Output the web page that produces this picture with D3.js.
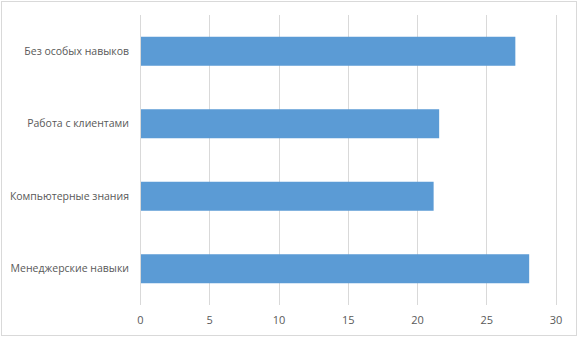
<!DOCTYPE html>
<html>
<head>
<meta charset="utf-8">
<script src="https://cdn.jsdelivr.net/npm/d3@7"></script>
<style>
  body { margin: 0; background: #fff; }
  svg text { font-family: "Open Sans", sans-serif; }
</style>
</head>
<body>
<div id="chart"></div>
<script>
// данные
var categories = ["Без особых навыков", "Работа с клиентами", "Компьютерные знания", "Менеджерские навыки"];
var values = [27.1, 21.6, 21.2, 28.1];
var ticks = [0, 5, 10, 15, 20, 25, 30];

function init() {
  var w = 578, h = 338;
  var mLeft = 140, mRight = 555.5, mTop = 15, mBottom = 305;

  var svg = d3.select("#chart").append("svg")
    .attr("width", w)
    .attr("height", h);

  // рамка
  svg.append("rect")
    .attr("x", 1.5).attr("y", 1.5)
    .attr("width", 575).attr("height", 334)
    .attr("fill", "none")
    .attr("stroke", "#d9d9d9");

  var x = d3.scaleLinear().domain([0, 30]).range([mLeft, mRight]);
  var y = d3.scaleBand().domain(categories).range([mTop, mBottom])
    .paddingInner(0.6).paddingOuter(0.3);

  // сетка
  svg.selectAll("line.grid")
    .data(ticks)
    .enter()
    .append("line")
    .attr("class", "grid")
    .attr("x1", function(d) { return Math.round(x(d)) + 0.5; })
    .attr("x2", function(d) { return Math.round(x(d)) + 0.5; })
    .attr("y1", mTop)
    .attr("y2", mBottom)
    .attr("stroke", "#d9d9d9")
    .attr("stroke-width", 1);

  // полосы
  svg.selectAll("rect.bar")
    .data(values)
    .enter()
    .append("rect")
    .attr("class", "bar")
    .attr("x", x(0) + 1)
    .attr("y", function(d, i) { return y(categories[i]); })
    .attr("width", function(d) { return x(d) - x(0) - 1; })
    .attr("height", y.bandwidth())
    .attr("fill", "#5b9bd5");

  // подписи оси X
  var xAxis = d3.axisBottom(x).tickValues(ticks).tickSize(0).tickPadding(10);
  var gx = svg.append("g").attr("transform", "translate(0," + (mBottom + 1) + ")").call(xAxis);
  gx.select(".domain").remove();
  gx.selectAll("text").style("font-size", "11px").style("fill", "#595959");

  // подписи категорий
  var yAxis = d3.axisLeft(y).tickSize(0).tickPadding(11);
  var gy = svg.append("g").attr("transform", "translate(" + mLeft + ",0)").call(yAxis);
  gy.select(".domain").remove();
  gy.selectAll("text").style("font-size", "10.5px").style("fill", "#595959");
}
window.onload = init;
</script>
</body>
</html>
